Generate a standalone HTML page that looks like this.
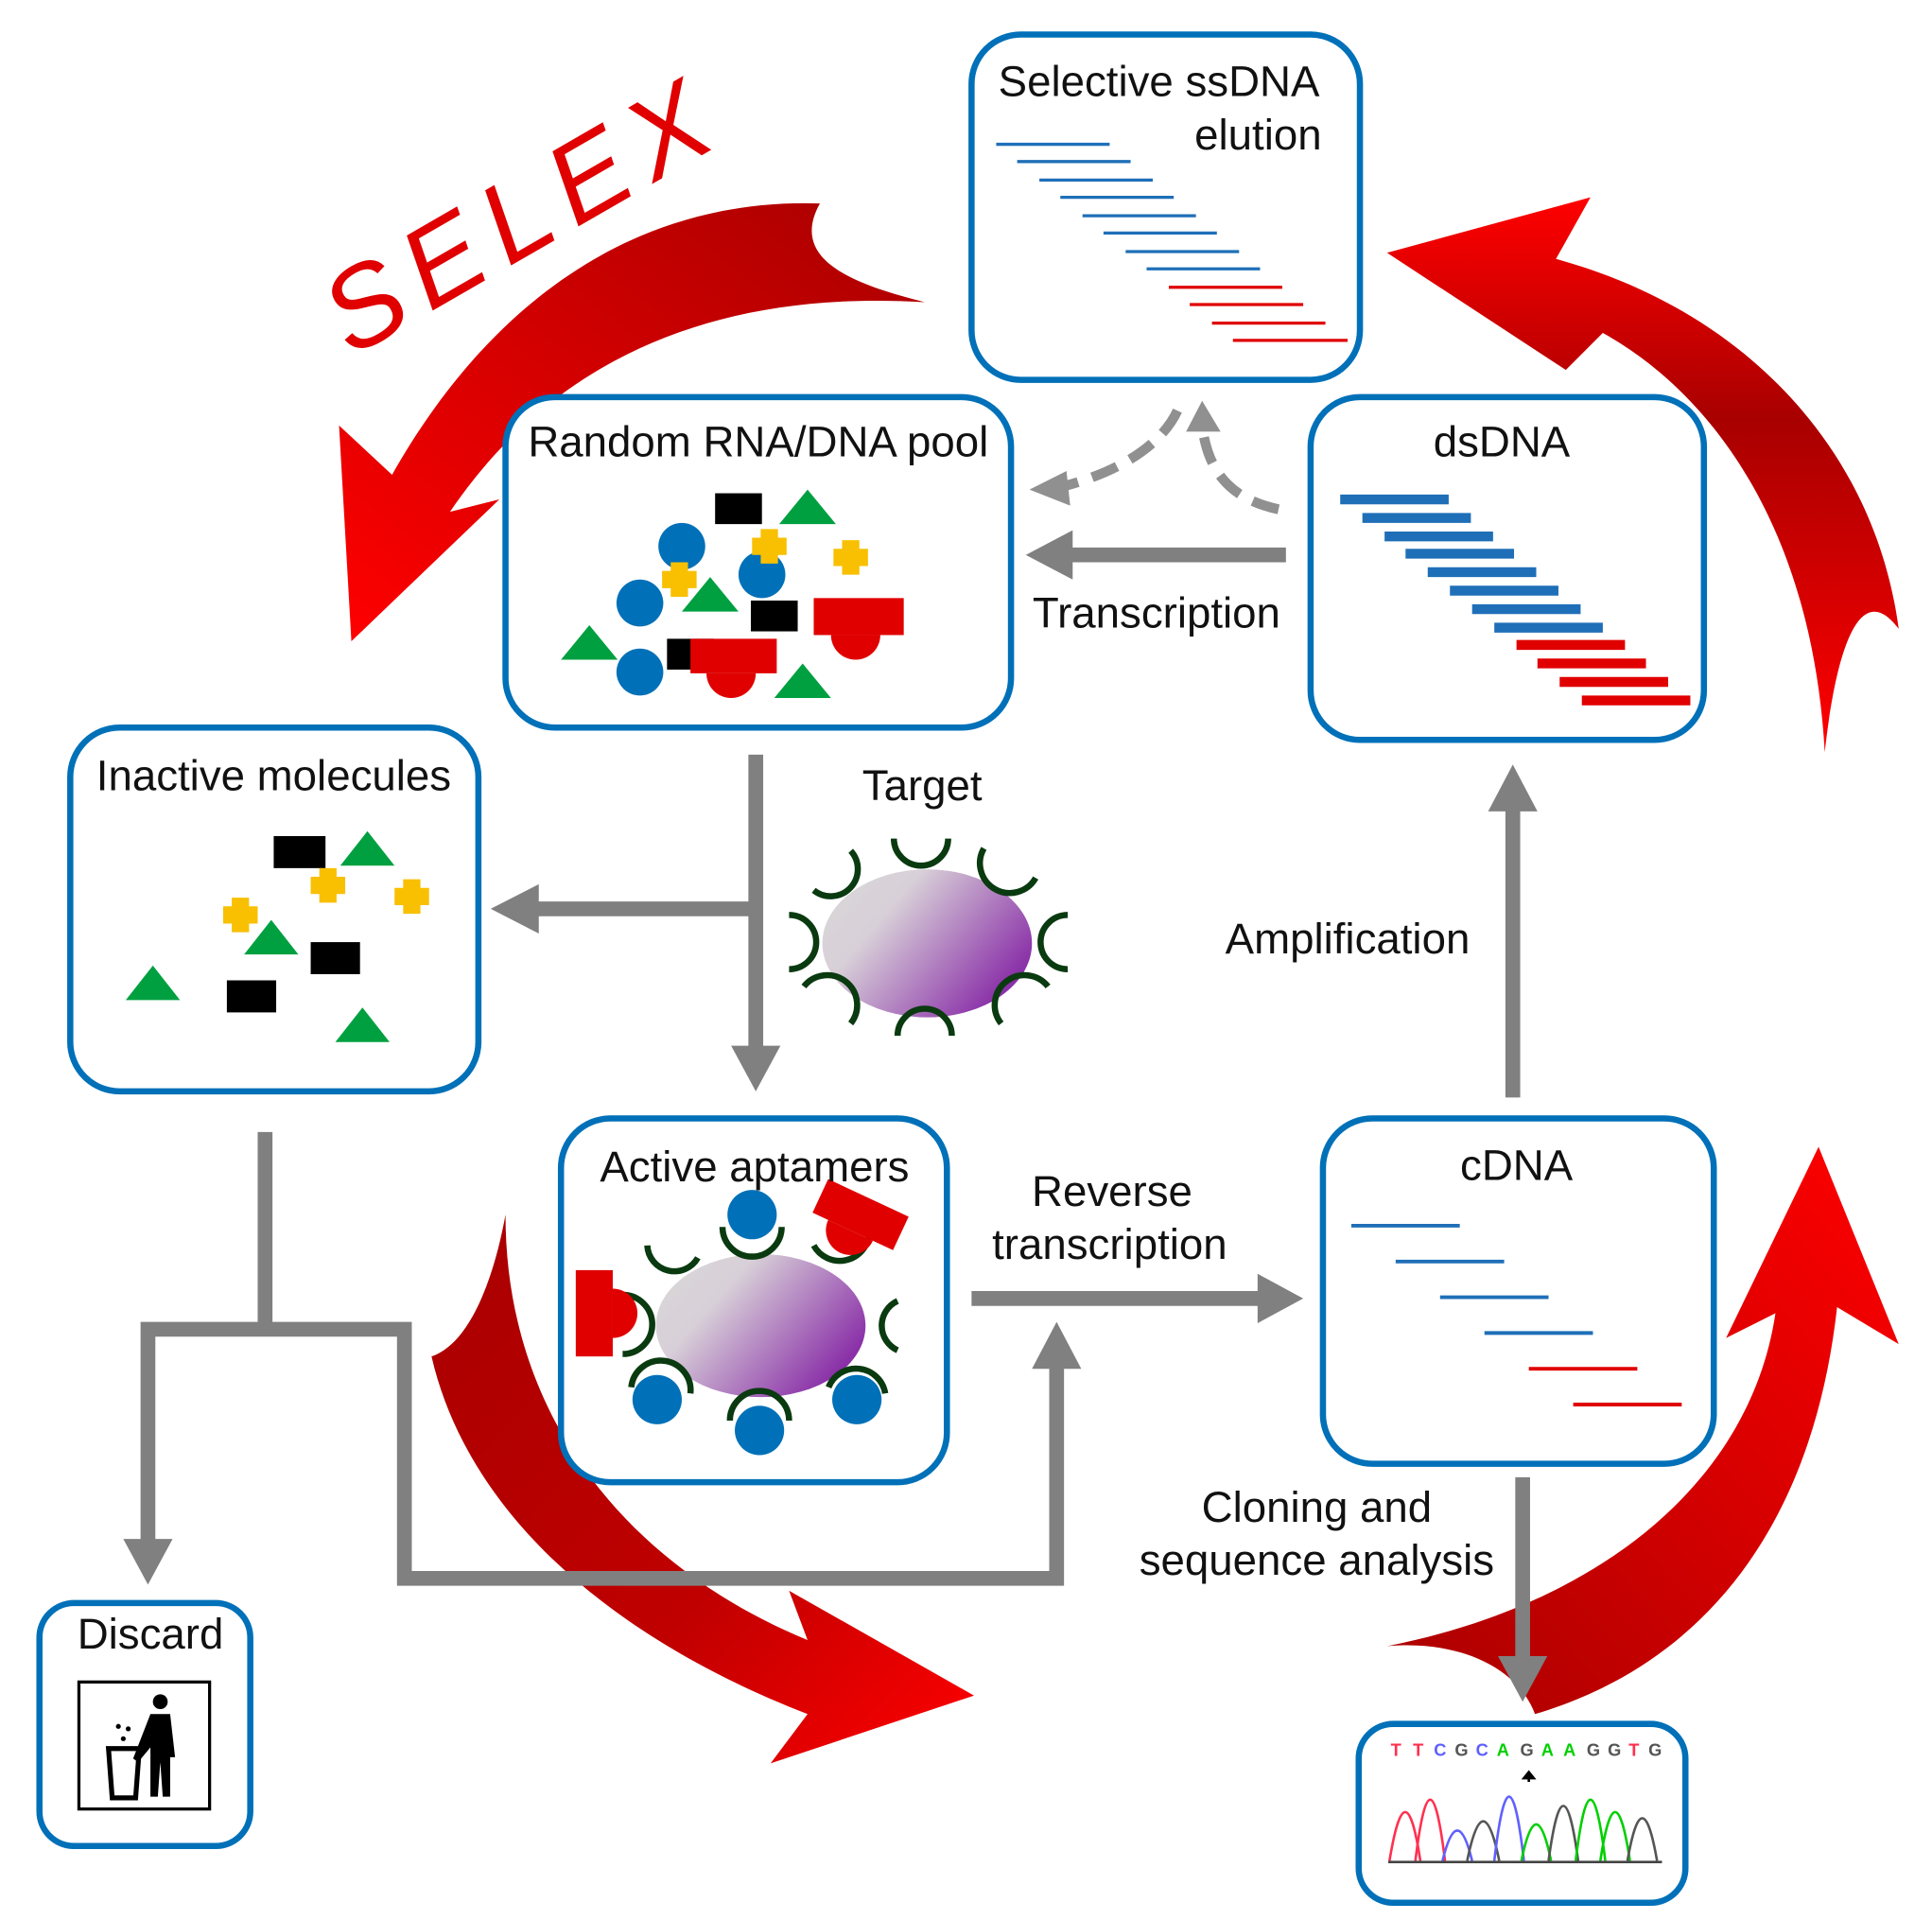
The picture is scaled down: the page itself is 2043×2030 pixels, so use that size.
<!DOCTYPE html>
<html><head><meta charset="utf-8"><style>html,body{margin:0;padding:0;background:#fff}svg{display:block}text{font-family:"Liberation Sans",sans-serif;font-size:35px;fill:#111}</style></head>
<body>
<svg width="2043" height="2030" viewBox="0 0 1567 1557" xmlns="http://www.w3.org/2000/svg">
<defs>
<linearGradient id="r1" x1="1" y1="0" x2="0" y2="1"><stop offset="0" stop-color="#a80000"/><stop offset="1" stop-color="#ff0000"/></linearGradient>
<linearGradient id="r2" x1="0" y1="1" x2="0" y2="0"><stop offset="0" stop-color="#ff0000"/><stop offset="0.6" stop-color="#a80000"/><stop offset="1" stop-color="#ff0000"/></linearGradient>
<linearGradient id="r3" x1="0" y1="0" x2="1" y2="1"><stop offset="0" stop-color="#a80000"/><stop offset="0.6" stop-color="#c00000"/><stop offset="1" stop-color="#ff0000"/></linearGradient>
<linearGradient id="r4" x1="0" y1="1" x2="1" y2="0"><stop offset="0" stop-color="#a80000"/><stop offset="1" stop-color="#ff0000"/></linearGradient>
<linearGradient id="tg" x1="0" y1="0" x2="1" y2="0.6"><stop offset="0" stop-color="#d8d8d8"/><stop offset="0.35" stop-color="#d8d0d8"/><stop offset="1" stop-color="#8a30a8"/></linearGradient>
</defs>

<path d="M665 165 C520 160 400 240 318 385 L275 345 L285 520 L405 405 L365 415 C450 290 580 235 750 245 C690 230 640 210 665 165 Z" fill="url(#r1)"/>
<path d="M1480 610 C1470 430 1390 320 1300 270 L1270 300 L1125 205 L1290 160 L1262 210 C1410 250 1520 360 1540 510 C1510 470 1490 520 1480 610 Z" fill="url(#r2)"/>
<path d="M410 985 C410 1150 510 1270 655 1330 L640 1290 L790 1375 L625 1430 L655 1390 C500 1330 380 1230 350 1100 C380 1090 400 1040 410 985 Z" fill="url(#r3)"/>
<path d="M1125 1335 C1300 1300 1420 1200 1440 1065 L1400 1085 L1475 930 L1540 1090 L1490 1060 C1470 1240 1380 1350 1245 1390 C1230 1350 1180 1330 1125 1335 Z" fill="url(#r4)"/>
<text x="285" y="290" transform="rotate(-30 285 290)" style="font-size:92px;font-style:italic;fill:#e00000;letter-spacing:12px">SELEX</text>

<g stroke="#808080" stroke-width="12" fill="none">
<path d="M613 612 V850"/><path d="M613 737 H435"/>
<path d="M1043 450 H868"/>
<path d="M1227 890 V655"/>
<path d="M788 1053 H1022"/>
<path d="M1235 1198 V1345"/>
<path d="M215 918 V1078 M120 1078 H328 M120 1072 V1250 M328 1072 V1280 H857 M857 1286 V1108"/>
</g>
<g fill="#808080">
<path d="M593 848 L633 848 L613 885 Z"/><path d="M437 717 L437 757 L398 737 Z"/>
<path d="M870 430 L870 470 L832 450 Z"/><path d="M1207 658 L1247 658 L1227 620 Z"/>
<path d="M1020 1033 L1020 1073 L1057 1053 Z"/><path d="M1215 1343 L1255 1343 L1235 1380 Z"/>
<path d="M100 1248 L140 1248 L120 1285 Z"/><path d="M837 1110 L877 1110 L857 1072 Z"/>
</g>
<g stroke="#909090" stroke-width="8" fill="none" stroke-dasharray="22 12">
<path d="M1037 413 C1000 405 980 385 975 345"/><path d="M955 333 C940 365 900 385 860 395"/>
</g>
<path d="M962 350 L975 325 L990 350 Z" fill="#909090"/><path d="M865 382 L835 397 L868 410 Z" fill="#909090"/>

<g fill="#fff" stroke="#0070b8" stroke-width="5">
<rect x="788" y="28" width="315" height="280" rx="40"/>
<rect x="410" y="322" width="410" height="268" rx="40"/>
<rect x="1063" y="322" width="319" height="278" rx="40"/>
<rect x="57" y="590" width="331" height="295" rx="40"/>
<rect x="455" y="907" width="313" height="295" rx="40"/>
<rect x="1073" y="907" width="317" height="280" rx="40"/>
<rect x="32" y="1300" width="171" height="197" rx="28"/>
<rect x="1102" y="1398" width="265" height="145" rx="28"/>
</g>

<g stroke-width="2.5">
<g stroke="#1f6fb8">
<line x1="808" y1="117" x2="900" y2="117"/><line x1="825" y1="131" x2="917" y2="131"/><line x1="843" y1="146" x2="935" y2="146"/><line x1="860" y1="160" x2="952" y2="160"/><line x1="878" y1="175" x2="970" y2="175"/><line x1="895" y1="189" x2="987" y2="189"/><line x1="913" y1="204" x2="1005" y2="204"/><line x1="930" y1="218" x2="1022" y2="218"/></g>
<g stroke="#e00000">
<line x1="948" y1="233" x2="1040" y2="233"/><line x1="965" y1="247" x2="1057" y2="247"/><line x1="983" y1="262" x2="1075" y2="262"/><line x1="1000" y1="276" x2="1093" y2="276"/></g>
</g>
<g stroke-width="8">
<g stroke="#1f6fb8">
<line x1="1087" y1="405" x2="1175" y2="405"/><line x1="1105" y1="420" x2="1193" y2="420"/><line x1="1123" y1="435" x2="1211" y2="435"/><line x1="1140" y1="449" x2="1228" y2="449"/><line x1="1158" y1="464" x2="1246" y2="464"/><line x1="1176" y1="479" x2="1264" y2="479"/><line x1="1194" y1="494" x2="1282" y2="494"/><line x1="1212" y1="509" x2="1300" y2="509"/></g>
<g stroke="#e00000">
<line x1="1230" y1="523" x2="1318" y2="523"/><line x1="1247" y1="538" x2="1335" y2="538"/><line x1="1265" y1="553" x2="1353" y2="553"/><line x1="1283" y1="568" x2="1371" y2="568"/></g>
</g>
<g stroke-width="3">
<g stroke="#1f6fb8"><line x1="1096" y1="994" x2="1184" y2="994"/><line x1="1132" y1="1023" x2="1220" y2="1023"/><line x1="1168" y1="1052" x2="1256" y2="1052"/><line x1="1204" y1="1081" x2="1292" y2="1081"/></g>
<g stroke="#e00000"><line x1="1240" y1="1110" x2="1328" y2="1110"/><line x1="1276" y1="1139" x2="1364" y2="1139"/></g>
</g>

<g fill="#000"><rect x="580" y="400" width="38" height="25"/><rect x="609" y="487" width="38" height="25"/><rect x="541" y="518" width="38" height="25"/></g>
<g fill="#0070b8"><circle cx="553" cy="443" r="19"/><circle cx="519" cy="489" r="19"/><circle cx="618" cy="466" r="19"/><circle cx="519" cy="545" r="19"/></g>
<g fill="#00a040"><path d="M632 425 L655 397 L678 425 Z"/><path d="M553 496 L576 468 L599 496 Z"/><path d="M455 535 L478 507 L501 535 Z"/><path d="M628 566 L651 538 L674 566 Z"/></g>
<g fill="#f8c000">
<path d="M617 429 h14 v7 h7 v14 h-7 v7 h-14 v-7 h-7 v-14 h7 Z"/>
<path d="M544 456 h14 v7 h7 v14 h-7 v7 h-14 v-7 h-7 v-14 h7 Z"/>
<path d="M683 438 h14 v7 h7 v14 h-7 v7 h-14 v-7 h-7 v-14 h7 Z"/>
</g>
<g fill="#e00000"><rect x="660" y="485" width="73" height="30"/><path d="M674 515 A20 20 0 0 0 714 515 Z"/><rect x="560" y="518" width="70" height="28"/><path d="M573 546 A20 20 0 0 0 613 546 Z"/></g>

<g fill="#000"><rect x="222" y="678" width="42" height="26"/><rect x="252" y="764" width="40" height="26"/><rect x="184" y="795" width="40" height="26"/></g>
<g fill="#00a040"><path d="M276 702 L298 674 L320 702 Z"/><path d="M198 774 L220 746 L242 774 Z"/><path d="M102 811 L124 783 L146 811 Z"/><path d="M272 845 L294 817 L316 845 Z"/></g>
<g fill="#f8c000">
<path d="M259 704 h14 v7 h7 v14 h-7 v7 h-14 v-7 h-7 v-14 h7 Z"/>
<path d="M327 713 h14 v7 h7 v14 h-7 v7 h-14 v-7 h-7 v-14 h7 Z"/>
<path d="M188 728 h14 v7 h7 v14 h-7 v7 h-14 v-7 h-7 v-14 h7 Z"/>
</g>

<ellipse cx="752" cy="765" rx="85" ry="60" fill="url(#tg)"/>
<g stroke="#0a3a10" stroke-width="5" fill="none">
<path d="M725 680 A22 22 0 0 0 769 680"/><path d="M690 690 A22 22 0 0 1 660 722"/><path d="M798 688 A22 22 0 0 0 840 712"/>
<path d="M640 742 A22 22 0 0 1 640 786"/><path d="M866 742 A22 22 0 0 0 866 786"/>
<path d="M652 800 A22 22 0 0 1 690 830"/><path d="M728 840 A22 22 0 0 1 772 840"/><path d="M812 830 A22 22 0 0 1 850 800"/>
</g>

<ellipse cx="617" cy="1075" rx="85" ry="58" fill="url(#tg)"/>
<g fill="#0070b8"><circle cx="610" cy="985" r="20"/><circle cx="533" cy="1135" r="20"/><circle cx="616" cy="1160" r="20"/><circle cx="695" cy="1135" r="20"/></g>
<g stroke="#0a3a10" stroke-width="5" fill="none">
<path d="M586 995 A24 24 0 0 0 634 995"/><path d="M525 1010 A22 22 0 0 0 566 1020"/><path d="M660 1010 A24 24 0 0 0 705 1000"/>
<path d="M728 1055 A22 22 0 0 0 728 1095"/><path d="M505 1050 A24 24 0 0 1 505 1098"/>
<path d="M512 1125 A24 24 0 0 1 560 1130"/><path d="M592 1152 A24 24 0 0 1 640 1152"/><path d="M672 1125 A24 24 0 0 1 718 1130"/>
</g>
<g fill="#e00000"><rect x="467" y="1030" width="30" height="70"/><path d="M497 1045 A20 20 0 0 1 497 1085 Z"/>
<g transform="rotate(25 698 985)"><rect x="662" y="970" width="72" height="30"/><path d="M676 1000 A20 20 0 0 0 716 1000 Z"/></g></g>

<rect x="64" y="1364" width="106" height="103" fill="#fff" stroke="#000" stroke-width="2.5"/>
<g fill="#000"><circle cx="130" cy="1380" r="6"/><path d="M122 1390 h16 l4 35 h-4 l0 32 h-6 l-2 -28 l-2 28 h-6 l0 -40 l-10 12 l-4 -3 Z"/>
<path d="M88 1418 h25 l-3 40 h-19 Z" fill="none" stroke="#000" stroke-width="4"/>
<circle cx="100" cy="1410" r="2"/><circle cx="104" cy="1402" r="2"/><circle cx="96" cy="1400" r="2"/></g>

<g>
<text x="1128" y="1424" style="fill:#ff3050;font-size:14px;font-weight:bold">T</text>
<text x="1146" y="1424" style="fill:#ff3050;font-size:14px;font-weight:bold">T</text>
<text x="1163" y="1424" style="fill:#6060ff;font-size:14px;font-weight:bold">C</text>
<text x="1180" y="1424" style="fill:#555;font-size:14px;font-weight:bold">G</text>
<text x="1197" y="1424" style="fill:#6060ff;font-size:14px;font-weight:bold">C</text>
<text x="1214" y="1424" style="fill:#00d000;font-size:14px;font-weight:bold">A</text>
<text x="1233" y="1424" style="fill:#555;font-size:14px;font-weight:bold">G</text>
<text x="1250" y="1424" style="fill:#00d000;font-size:14px;font-weight:bold">A</text>
<text x="1268" y="1424" style="fill:#00d000;font-size:14px;font-weight:bold">A</text>
<text x="1287" y="1424" style="fill:#555;font-size:14px;font-weight:bold">G</text>
<text x="1304" y="1424" style="fill:#555;font-size:14px;font-weight:bold">G</text>
<text x="1321" y="1424" style="fill:#ff3050;font-size:14px;font-weight:bold">T</text>
<text x="1337" y="1424" style="fill:#555;font-size:14px;font-weight:bold">G</text>
</g>
<g fill="none" stroke-width="2">
<path d="M1127 1509 Q1140 1430 1152 1509" stroke="#ff3050"/><path d="M1148 1509 Q1160 1410 1172 1509" stroke="#ff3050"/>
<path d="M1170 1509 Q1182 1460 1194 1509" stroke="#6060ff"/><path d="M1190 1509 Q1203 1445 1216 1509" stroke="#555"/>
<path d="M1212 1509 Q1224 1405 1236 1509" stroke="#6060ff"/><path d="M1234 1509 Q1246 1450 1258 1509" stroke="#00d000"/>
<path d="M1256 1509 Q1268 1420 1280 1509" stroke="#555"/><path d="M1278 1509 Q1290 1410 1302 1509" stroke="#00d000"/>
<path d="M1298 1509 Q1310 1430 1322 1509" stroke="#00d000"/><path d="M1320 1509 Q1332 1440 1344 1509" stroke="#555"/>
</g>
<line x1="1126" y1="1510" x2="1348" y2="1510" stroke="#444" stroke-width="2"/>
<path d="M1240 1437 l-4 5 h8 Z M1240 1437 v8" stroke="#000" stroke-width="2"/>

<text x="940" y="78" text-anchor="middle">Selective ssDNA</text>
<text x="1072" y="121" text-anchor="end">elution</text>
<text x="615" y="370" text-anchor="middle">Random RNA/DNA pool</text>
<text x="1218" y="370" text-anchor="middle">dsDNA</text>
<text x="938" y="509" text-anchor="middle">Transcription</text>
<text x="222" y="641" text-anchor="middle">Inactive  molecules</text>
<text x="748" y="649" text-anchor="middle">Target</text>
<text x="1093" y="773" text-anchor="middle">Amplification</text>
<text x="612" y="958" text-anchor="middle">Active aptamers</text>
<text x="902" y="978" text-anchor="middle">Reverse</text>
<text x="900" y="1021" text-anchor="middle">transcription</text>
<text x="1230" y="957" text-anchor="middle">cDNA</text>
<text x="1068" y="1234" text-anchor="middle">Cloning and</text>
<text x="1068" y="1277" text-anchor="middle">sequence analysis</text>
<text x="122" y="1337" text-anchor="middle">Discard</text>
</svg>
</body></html>
